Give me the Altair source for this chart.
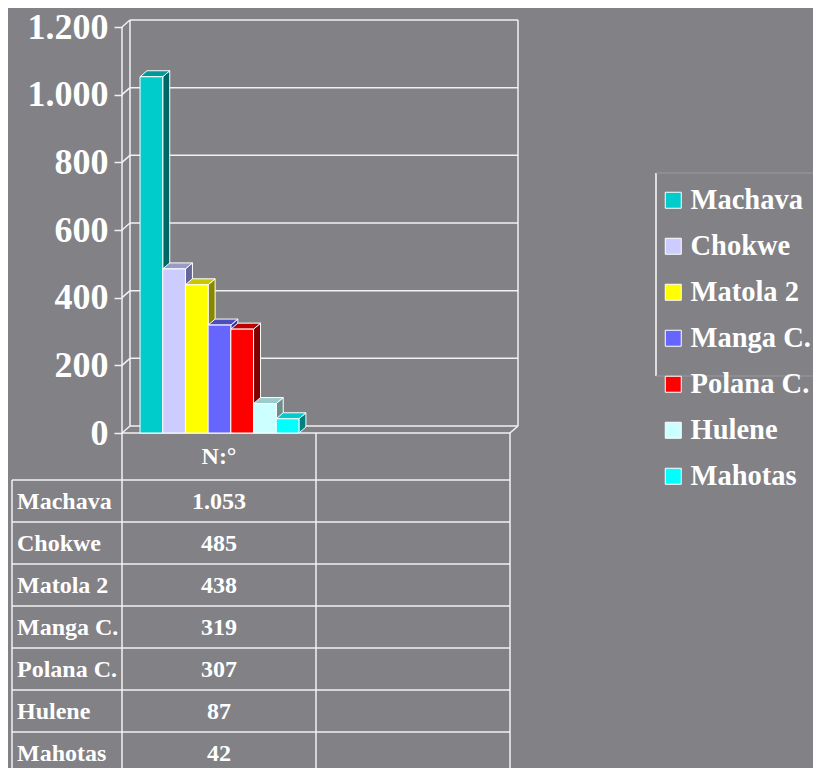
import altair as alt
import pandas as pd

# ---------------- data ----------------
names = ["Machava", "Chokwe", "Matola 2", "Manga C.", "Polana C.", "Hulene", "Mahotas"]
values = [1053, 485, 438, 319, 307, 87, 42]
front_colors = ["#00CCCC", "#CCCCFF", "#FFFF00", "#6666FF", "#FF0000", "#CCFFFF", "#00FFFF"]
top_colors = ["#009999", "#9999CC", "#C8C800", "#4D4DC0", "#C00000", "#99CCCC", "#00CCCC"]
side_colors = ["#006666", "#666699", "#888800", "#333399", "#800000", "#6E8F8F", "#008080"]
y_ticks = [0, 200, 400, 600, 800, 1000, 1200]
table_header = "N:°"

# ---------------- style / layout ----------------
BG = "#818186"
FONT = "Liberation Serif"
WHITE = "#FFFFFF"
LINE = "#F2F2F2"
FAINT = "#9A9A9E"

COL_PX = 194            # one table column = one x unit
PLOT_W = 396
PLOT_H = 749
FLOOR_PX = 414          # pixel (from plot top) of the value 0
Y_MAX = 1200
Y_PX = 406 / Y_MAX
WALL_DX = 8 / COL_PX
WALL_DY = 7 / Y_PX
BAR_DX = 7 / COL_PX
BAR_DY = 6 / Y_PX
BAR_START = 0.093
BAR_W = 0.117
X_MAX = 2 + WALL_DX
Y_DOM_TOP = FLOOR_PX / Y_PX
Y_DOM_BOT = -(PLOT_H - FLOOR_PX) / Y_PX

ROW_H = 42.0
HEAD_H = 47
N_ROWS = len(names) + 1
HEAD_TOP = 1 - HEAD_H / ROW_H       # header row is a little taller
LABEL_LEFT = -110 / COL_PX
LABEL_TEXT = -105 / COL_PX

thousands = "replace(format(datum.value, ','), ',', '.')"

# ---------------- derived tables ----------------
front = pd.DataFrame({"name": names, "v": values})
front["x0"] = [BAR_START + i * BAR_W for i in range(len(names))]
front["x1"] = front["x0"] + BAR_W
front["base"] = 0

side_rows, top_rows = [], []
for i, (n, v) in enumerate(zip(names, values)):
    x0 = BAR_START + i * BAR_W
    x1 = x0 + BAR_W
    side_rows += [
        dict(name=n, c=side_colors[i], x=x1, y=v, y2=0),
        dict(name=n, c=side_colors[i], x=x1 + BAR_DX, y=v + BAR_DY, y2=BAR_DY),
    ]
    top_rows += [
        dict(name=n, c=top_colors[i], x=x0, y=v, y2=v),
        dict(name=n, c=top_colors[i], x=x0 + BAR_DX, y=v + BAR_DY, y2=v),
        dict(name=n, c=top_colors[i], x=x1, y=v + BAR_DY, y2=v),
        dict(name=n, c=top_colors[i], x=x1 + BAR_DX, y=v + BAR_DY, y2=v + BAR_DY),
    ]
side = pd.DataFrame(side_rows)
tops = pd.DataFrame(top_rows)

wall_rows = []
for t in y_ticks:
    wall_rows.append(dict(x=WALL_DX, x2=2 + WALL_DX, y=t + WALL_DY, y2=t + WALL_DY))
    wall_rows.append(dict(x=0, x2=WALL_DX, y=t, y2=t + WALL_DY))
wall_rows += [
    dict(x=0, x2=0, y=0, y2=Y_MAX),
    dict(x=WALL_DX, x2=WALL_DX, y=WALL_DY, y2=Y_MAX + WALL_DY),
    dict(x=2 + WALL_DX, x2=2 + WALL_DX, y=WALL_DY, y2=Y_MAX + WALL_DY),
    dict(x=0, x2=2, y=0, y2=0),
    dict(x=2, x2=2 + WALL_DX, y=0, y2=WALL_DY),
]
walls = pd.DataFrame(wall_rows)

# table grid lines (row index units on y, column units on x)
tline_rows = []
for k in range(1, N_ROWS + 1):
    tline_rows.append(dict(x=LABEL_LEFT, x2=2, y=k, y2=k))
for c in [0, 1, 2]:
    tline_rows.append(dict(x=c, x2=c, y=HEAD_TOP, y2=N_ROWS))
tline_rows.append(dict(x=LABEL_LEFT, x2=LABEL_LEFT, y=1, y2=N_ROWS))
tlines = pd.DataFrame(tline_rows)

tdf = pd.DataFrame({"row": names, "v": values, "k": range(1, len(names) + 1)})
hdf = pd.DataFrame({"t": [table_header], "k": [0]})

# ---------------- scales & axes ----------------
xs = alt.Scale(domain=[0, X_MAX], nice=False, zero=False)
ys = alt.Scale(domain=[Y_DOM_BOT, Y_DOM_TOP], nice=False, zero=False)
yt = alt.Scale(domain=[HEAD_TOP, N_ROWS],
               range=[FLOOR_PX, FLOOR_PX + (N_ROWS - HEAD_TOP) * ROW_H], nice=False, zero=False)
yaxis = alt.Axis(values=y_ticks, labelExpr=thousands, domain=False, grid=False,
                 ticks=True, tickSize=8, tickColor=LINE, tickWidth=1.5,
                 labelFont=FONT, labelFontSize=36, labelFontWeight="bold",
                 labelColor=WHITE, labelPadding=6, title=None)
X = lambda f: alt.X(f, scale=xs, axis=None)
Y = lambda f: alt.Y(f, scale=ys, axis=yaxis, stack=None)
YT = lambda f: alt.Y(f, scale=yt, axis=None)

# ---------------- 3D bar chart ----------------
walls_chart = alt.Chart(walls).mark_rule(color=LINE, strokeWidth=1.5).encode(
    x=X("x:Q"), x2="x2:Q", y=Y("y:Q"), y2="y2:Q")

side_chart = alt.Chart(side).mark_area(orient="vertical", stroke=WHITE, strokeWidth=1,
                                       opacity=1, fillOpacity=1).encode(
    x=X("x:Q"), y=Y("y:Q"), y2="y2:Q",
    color=alt.Color("c:N", scale=None), detail="name:N")

top_chart = alt.Chart(tops).mark_area(orient="vertical", stroke=WHITE, strokeWidth=1,
                                      opacity=1, fillOpacity=1).encode(
    x=X("x:Q"), y=Y("y:Q"), y2="y2:Q",
    color=alt.Color("c:N", scale=None), detail="name:N")

front_chart = alt.Chart(front).mark_bar(stroke=WHITE, strokeWidth=1, opacity=1).encode(
    x=X("x0:Q"), x2="x1:Q", y=Y("v:Q"), y2="base:Q",
    color=alt.Color("name:N", scale=alt.Scale(domain=names, range=front_colors),
                    legend=alt.Legend(title=None, orient="none", legendX=537, legendY=167,
                                      symbolType="square", symbolSize=256,
                                      symbolStrokeColor=WHITE, symbolStrokeWidth=1,
                                      symbolOpacity=1,
                                      labelFont=FONT, labelFontSize=28.5, labelFontWeight="bold",
                                      labelColor=WHITE, labelOffset=3, rowPadding=17,
                                      padding=0, labelLimit=300)))

bars = alt.layer(walls_chart, side_chart, top_chart, front_chart)

# ---------------- data table ----------------
tlines_chart = alt.Chart(tlines).mark_rule(color=LINE, strokeWidth=1.5).encode(
    x=X("x:Q"), x2="x2:Q", y=YT("y:Q"), y2="y2:Q")

vals_text = alt.Chart(tdf).transform_calculate(
    xc="0.5", yc="datum.k + 0.5",
    label="replace(format(datum.v, ','), ',', '.')",
).mark_text(font=FONT, fontSize=24, fontWeight="bold", color=WHITE, dy=1).encode(
    x=X("xc:Q"), y=YT("yc:Q"), text="label:N")

row_text = alt.Chart(tdf).transform_calculate(
    xc=str(LABEL_TEXT), yc="datum.k + 0.5",
).mark_text(font=FONT, fontSize=24, fontWeight="bold", color=WHITE, dy=1, align="left").encode(
    x=X("xc:Q"), y=YT("yc:Q"), text="row:N")

head_text = alt.Chart(hdf).transform_calculate(
    xc="0.5", yc=f"({HEAD_TOP} + 1) / 2").mark_text(
    font=FONT, fontSize=24, fontWeight="bold", color=WHITE).encode(
    x=X("xc:Q"), y=YT("yc:Q"), text="t:N")

# partial legend frame (decoration)
frame = alt.Chart(hdf).mark_rule(color=WHITE, strokeWidth=1.5).encode(
    x=alt.value(534), y=alt.value(154), y2=alt.value(357))
frame_top = alt.Chart(hdf).mark_rule(color=FAINT, strokeWidth=1).encode(
    x=alt.value(534), x2=alt.value(700), y=alt.value(154))
frame_bot = alt.Chart(hdf).mark_rule(color=FAINT, strokeWidth=1).encode(
    x=alt.value(534), x2=alt.value(700), y=alt.value(357))

table = alt.layer(tlines_chart, vals_text, row_text, head_text, frame, frame_top, frame_bot)

chart = alt.layer(bars, table).resolve_scale(y="independent").properties(
    width=PLOT_W, height=PLOT_H,
    autosize=alt.AutoSizeParams(type="none"),
    padding={"left": 114, "top": 11, "right": 295, "bottom": 0},
).configure(background=BG).configure_view(stroke=None)

chart.save("out.html", embed_options={"renderer": "svg", "actions": False})
